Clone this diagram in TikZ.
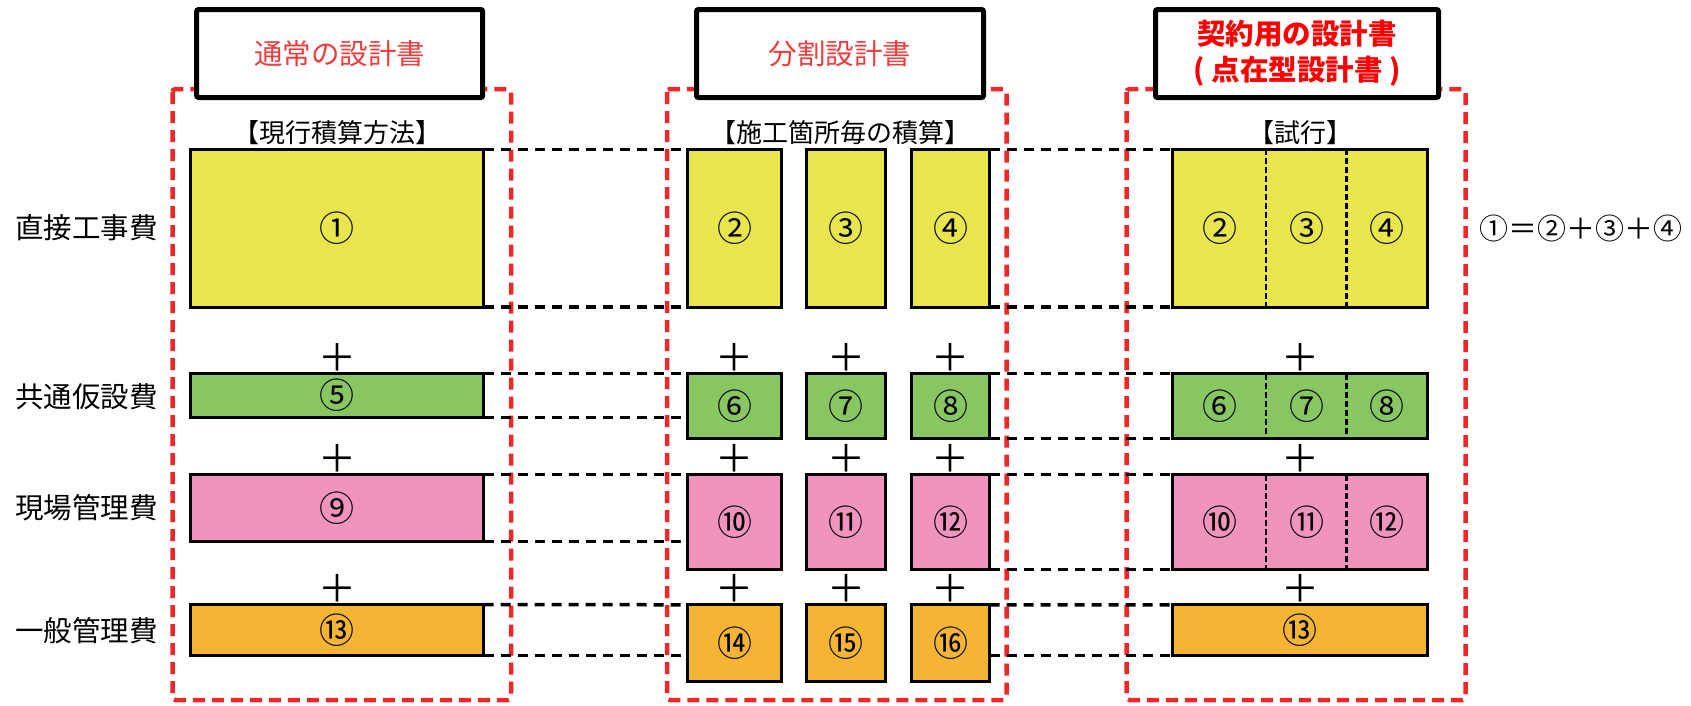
\documentclass[tikz,border=0pt]{standalone}
\usepackage{fontspec}
\setmainfont{Noto Sans CJK JP}
\usepackage{tikz}
\usetikzlibrary{positioning, calc}

\definecolor{cyellow}{RGB}{232,230,76}
\definecolor{cgreen}{RGB}{136,198,98}
\definecolor{cpink}{RGB}{240,148,190}
\definecolor{corange}{RGB}{244,180,52}
\definecolor{cred}{RGB}{238,40,40}
\definecolor{ctitle}{RGB}{240,60,60}

\tikzset{
	box/.style={draw, line width=3.3pt, inner sep=0pt, outer sep=0pt, font=\fontsize{35}{35}\selectfont},
	titlebox/.style={draw, fill=white, line width=5pt, rounded corners=2pt, inner sep=0pt, outer sep=0pt, text=ctitle, font=\fontsize{28.5}{36}\selectfont, align=center},
	frame/.style={draw=cred, line width=4.5pt, dash pattern=on 12pt off 7pt, rounded corners=3pt},
	conn/.style={draw, line width=3.5pt, dash pattern=on 10pt off 7pt},
	divider/.style={draw, line width=2.2pt, dash pattern=on 6pt off 3pt},
	plus/.style={inner sep=0pt, font=\fontsize{38}{38}\selectfont},
	rowlabel/.style={inner sep=0pt, font=\fontsize{28.5}{28.5}\selectfont},
	method/.style={inner sep=0pt, font=\fontsize{26}{26}\selectfont},
}

\begin{document}
\begin{tikzpicture}[x=1pt, y=-1pt]

	\useasboundingbox (0,0) rectangle (1691,705);

	% red frames
	\draw[frame] (172.5,89) rectangle (511,700);
	\draw[frame] (667,89) rectangle (1006.5,700);
	\draw[frame] (1126.5,89) rectangle (1465.5,700);

	% titles
	\node (title_a) [titlebox, minimum width=286pt, minimum height=88pt] at (339.7,53.5) {通常の設計書};
	\node (title_b) [titlebox, minimum width=287pt, minimum height=88pt] at (840,53.5) {分割設計書};
	\node (title_c) [titlebox, text=red, minimum width=283pt, minimum height=88pt] at (1297,53.5) {\bfseries 契約用の設計書\\\bfseries ( 点在型設計書 )};

	\node (method_a) [method] at (337.5,133) {【現行積算方法】};
	\node (method_b) [method] at (840.6,133) {【施工箇所毎の積算】};
	\node (method_c) [method] at (1300,133) {【試行】};

	% row labels
	\node (lbl_dir) [rowlabel] at (86.7,228) {直接工事費};
	\node (lbl_com) [rowlabel] at (86.7,397) {共通仮設費};
	\node (lbl_site) [rowlabel] at (86.7,508) {現場管理費};
	\node (lbl_gen) [rowlabel] at (86.7,631) {一般管理費};

	% current method
	\node (dir_a) [box, fill=cyellow, minimum width=293pt, minimum height=157.7pt] at (337,228.3) {①};
	\node (com_a) [box, fill=cgreen, minimum width=293pt, minimum height=44pt] at (337,395.5) {⑤};
	\node (site_a) [box, fill=cpink, minimum width=293pt, minimum height=67pt] at (337,508) {⑨};
	\node (gen_a) [box, fill=corange, minimum width=293pt, minimum height=51pt] at (337,630) {⑬};

	% per site
	\node (dir_b1) [box, fill=cyellow, minimum width=94pt, minimum height=157.7pt] at (734.5,228.3) {②};
	\node (dir_b2) [box, fill=cyellow, minimum width=79pt, minimum height=157.7pt, right=25pt of dir_b1] {③};
	\node (dir_b3) [box, fill=cyellow, minimum width=78pt, minimum height=157.7pt, right=26pt of dir_b2] {④};

	\node (com_b1) [box, fill=cgreen, minimum width=94pt, minimum height=65pt] at (734.5,406) {⑥};
	\node (com_b2) [box, fill=cgreen, minimum width=79pt, minimum height=65pt, right=25pt of com_b1] {⑦};
	\node (com_b3) [box, fill=cgreen, minimum width=78pt, minimum height=65pt, right=26pt of com_b2] {⑧};

	\node (site_b1) [box, fill=cpink, minimum width=94pt, minimum height=95pt] at (734.5,522) {⑩};
	\node (site_b2) [box, fill=cpink, minimum width=79pt, minimum height=95pt, right=25pt of site_b1] {⑪};
	\node (site_b3) [box, fill=cpink, minimum width=78pt, minimum height=95pt, right=26pt of site_b2] {⑫};

	\node (gen_b1) [box, fill=corange, minimum width=94pt, minimum height=77pt] at (734.5,643.3) {⑭};
	\node (gen_b2) [box, fill=corange, minimum width=79pt, minimum height=77pt, right=25pt of gen_b1] {⑮};
	\node (gen_b3) [box, fill=corange, minimum width=78pt, minimum height=77pt, right=26pt of gen_b2] {⑯};

	% trial
	\node (dir_c) [box, fill=cyellow, minimum width=255pt, minimum height=157.7pt] at (1300,228.3) {};
	\node (com_c) [box, fill=cgreen, minimum width=255pt, minimum height=65pt] at (1300,406) {};
	\node (site_c) [box, fill=cpink, minimum width=255pt, minimum height=95pt] at (1300,522) {};
	\node (gen_c) [box, fill=corange, minimum width=255pt, minimum height=50.5pt] at (1300,630) {⑬};

	\foreach \r/\p/\q/\s in {dir_c/②/③/④, com_c/⑥/⑦/⑧, site_c/⑩/⑪/⑫} {
		\path[divider] ($(\r.north west)!0.368!(\r.north east)$) -- ($(\r.south west)!0.368!(\r.south east)$);
		\path[divider] ($(\r.north west)!0.682!(\r.north east)$) -- ($(\r.south west)!0.682!(\r.south east)$);
		\node (\r_1) [box, draw=none] at ($(\r.west)!0.185!(\r.east)$) {\p};
		\node (\r_2) [box, draw=none] at ($(\r.west)!0.526!(\r.east)$) {\q};
		\node (\r_3) [box, draw=none] at ($(\r.west)!0.841!(\r.east)$) {\s};
	}

	\node (sum) [inner sep=0pt, anchor=east, font=\fontsize{29}{29}\selectfont] at (1683,228) {①＝②＋③＋④};

	% plus signs
	\foreach \b in {com_a, site_a, gen_a, com_b1, com_b2, com_b3, site_b1, site_b2, site_b3, gen_b1, gen_b2, gen_b3, com_c, site_c, gen_c} {
		\node (plus_\b) [plus] at ($(\b.north)+(0,-16.5)$) {＋};
	}

	% dashed connectors
	\path[conn] (dir_a.north east) -- (dir_b1.north west);
	\path[conn] (dir_a.south east) -- (dir_b1.south west);
	\path[conn] (dir_b3.north east) -- (dir_c.north west);
	\path[conn] (dir_b3.south east) -- (dir_c.south west);

	\path[conn] (com_a.north east) -- (com_b1.north west);
	\path[conn] (com_a.south east) -- (com_a.south east -| com_b1.west);
	\path[conn] (com_b3.north east) -- (com_c.north west);
	\path[conn] (com_b3.south east) -- (com_c.south west);

	\path[conn] (site_a.north east) -- (site_b1.north west);
	\path[conn] (site_a.south east) -- (site_a.south east -| site_b1.west);
	\path[conn] (site_b3.north east) -- (site_c.north west);
	\path[conn] (site_b3.south east) -- (site_c.south west);

	\path[conn] (gen_a.north east) -- (gen_b1.north west);
	\path[conn] (gen_a.south east) -- (gen_a.south east -| gen_b1.west);
	\path[conn] (gen_b3.north east) -- (gen_c.north west);
	\path[conn] (gen_c.south west -| gen_b3.east) -- (gen_c.south west);

\end{tikzpicture}
\end{document}
